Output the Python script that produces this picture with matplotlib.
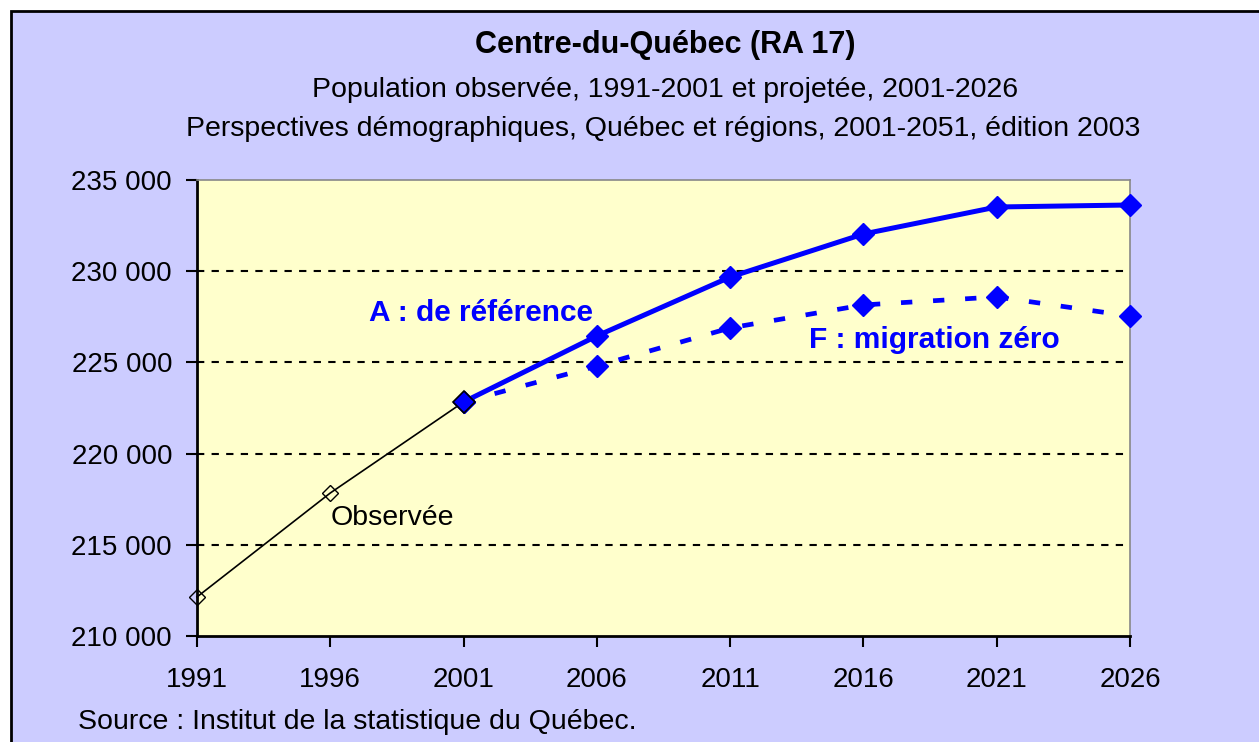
import matplotlib.pyplot as plt
from matplotlib.patches import Rectangle
from matplotlib.ticker import FuncFormatter

plt.rcParams['font.family'] = ['Liberation Sans', 'DejaVu Sans']

# population, Centre-du-Québec
years_obs = [1991, 1996, 2001]
pop_obs = [212140, 217840, 222830]

years_proj = [2001, 2006, 2011, 2016, 2021, 2026]
pop_ref = [222830, 226450, 229680, 232040, 233520, 233630]
pop_zero = [222830, 224800, 226890, 228150, 228590, 227540]

xticks = [1991, 1996, 2001, 2006, 2011, 2016, 2021, 2026]
yticks = [210000, 215000, 220000, 225000, 230000, 235000]

W, H = 1259, 742
fig = plt.figure(figsize=(W / 100, H / 100), dpi=100, facecolor='white')
fig.patches.append(Rectangle((11 / W, -0.1), 1.2, 1.1 - 11 / H,
                             transform=fig.transFigure, facecolor='#CCCCFF',
                             edgecolor='black', lw=2, zorder=-10))

ax = fig.add_axes([197 / W, 1 - 636 / H, (1130 - 197) / W, (636 - 180) / H])
ax.set_zorder(5)
ax.set_facecolor('#FFFFCC')

ax.plot(years_obs, pop_obs, color='black', lw=1.2, marker='D', ms=8.5,
        mfc='none', mec='black', mew=1, zorder=3, clip_on=False)
ax.plot(years_proj, pop_zero, color='blue', lw=3.4, ls=(0, (2.4, 4.4)),
        marker='D', ms=11, mfc='blue', mec='blue', zorder=4, clip_on=False)
ax.plot(years_proj, pop_ref, color='blue', lw=3.6, marker='D', ms=11,
        mfc='blue', mec='blue', zorder=5, clip_on=False)
ax.plot(years_proj[0], pop_ref[0], marker='D', ms=11, mfc='blue',
        mec='black', mew=1.2, zorder=6)

ax.set_xlim(1991, 2026)
ax.set_ylim(210000, 235000)
ax.set_xticks(xticks)
ax.set_yticks(yticks)
ax.yaxis.set_major_formatter(FuncFormatter(lambda v, p: f"{int(v):,}".replace(',', ' ')))
for y in yticks[1:-1]:
    ax.axhline(y, color='black', lw=1.5, ls=(0, (3.5, 3.5)), zorder=1)

ax.tick_params(axis='both', direction='out', length=8, width=1.5,
               labelsize=20, colors='black')
ax.tick_params(axis='y', pad=10)
ax.tick_params(axis='x', pad=14)
for side in ('left', 'bottom'):
    ax.spines[side].set_linewidth(2)
    ax.spines[side].set_color('black')
for side in ('top', 'right'):
    ax.spines[side].set_linewidth(1.2)
    ax.spines[side].set_color('#888888')

ax.text(2001.65, 227710, 'A : de référence', color='blue', fontsize=21.5,
        fontweight='bold', ha='center', va='center')
ax.text(2018.65, 226230, 'F : migration zéro', color='blue', fontsize=21.5,
        fontweight='bold', ha='center', va='center')
ax.text(1996, 216470, 'Observée', color='black', fontsize=20.5,
        ha='left', va='center')

fig.text(665 / W, 1 - 45 / H, 'Centre-du-Québec (RA 17)', fontsize=22,
         fontweight='bold', ha='center', va='center')
fig.text(665 / W, 1 - 90 / H, 'Population observée, 1991-2001 et projetée, 2001-2026',
         fontsize=20.5, ha='center', va='center')
fig.text(663 / W, 1 - 129 / H,
         'Perspectives démographiques, Québec et régions, 2001-2051, édition 2003',
         fontsize=20.5, ha='center', va='center')
fig.text(78 / W, 1 - 722 / H, 'Source : Institut de la statistique du Québec.',
         fontsize=20.5, ha='left', va='center')

fig.savefig('out.png', dpi=100, facecolor=fig.get_facecolor())
